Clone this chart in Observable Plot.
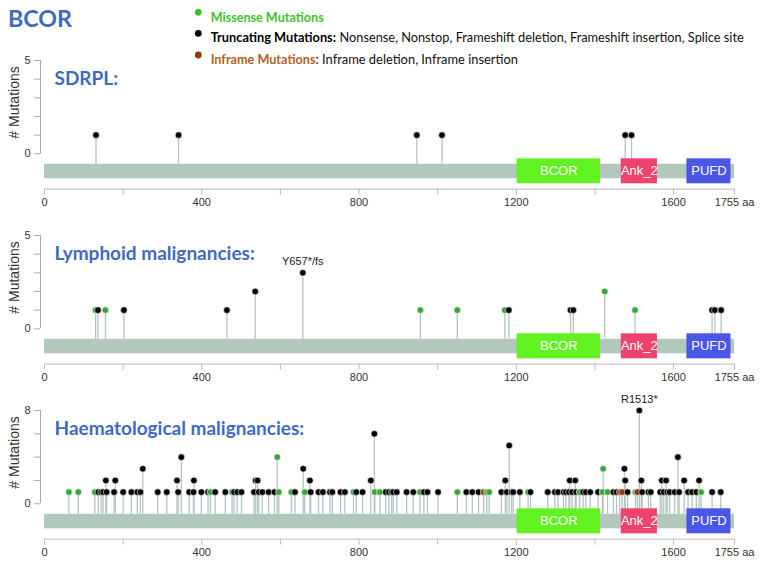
<!DOCTYPE html>
<html><head><meta charset="utf-8">
<script src="https://cdn.jsdelivr.net/npm/d3@7"></script>
<script src="https://cdn.jsdelivr.net/npm/@observablehq/plot@0.6"></script>
<style>
body{margin:0;background:#fff;}
#root{position:relative;width:764px;height:561px;overflow:hidden;background:#fff;}
.panel{position:absolute;left:0;}
#header{position:absolute;left:0;top:0;z-index:2;}
</style></head><body><div id="root"></div>
<script>
// ---------- data ----------
const proteinName = "BCOR";
const proteinLength = 1755;
const domainNames = ["BCOR", "Ank_2", "PUFD"];
const domainStart = [1202, 1467, 1634];
const domainEnd = [1414, 1559, 1746];
const domainColors = ["#62f221", "#f0436b", "#4b56e6"];

const xTicks = [0, 200, 400, 600, 800, 1000, 1200, 1400, 1600, 1755];
const xLabels = ["0", "", "400", "", "800", "", "1200", "", "1600", "1755 aa"];

const panelTitles = ["SDRPL:", "Lymphoid malignancies:", "Haematological malignancies:"];
const panelYMax = [5, 5, 8];
const panelYStep = [1, 1, 2];

const typeCodes = ["M", "T", "I"];
const typeColors = ["#3aa63a", "#000000", "#8b3a10"];

const legendDotColors = ["#35c22e", "#000000", "#8b3a10"];
const legendBold = ["Missense Mutations", "Truncating Mutations:", "Inframe Mutations"];
const legendBoldColors = ["#3cc42a", "#000000", "#b5611e"];
const legendRest = ["", " Nonsense, Nonstop, Frameshift deletion, Frameshift insertion, Splice site", ": Inframe deletion, Inframe insertion"];

// SDRPL
const sdrplPos = [131, 341, 947, 1011, 1477, 1493];
const sdrplCount = [1, 1, 1, 1, 1, 1];
const sdrplType = ["T", "T", "T", "T", "T", "T"];
const sdrplLabelPos = [];
const sdrplLabelText = [];

// Lymphoid malignancies
const lymphPos = [130, 136, 155, 202, 464, 536, 657, 956, 1050, 1171, 1181, 1338, 1345, 1425, 1502, 1698, 1705, 1721];
const lymphCount = [1, 1, 1, 1, 1, 2, 3, 1, 1, 1, 1, 1, 1, 2, 1, 1, 1, 1];
const lymphType = ["M", "T", "M", "T", "T", "T", "T", "M", "M", "M", "T", "T", "T", "M", "M", "T", "T", "T"];
const lymphLabelPos = [657];
const lymphLabelText = ["Y657*/fs"];

// Haematological malignancies
const haemPos = [62, 86, 128, 137, 144, 149, 156, 158, 177, 180, 200, 221, 236, 244, 250, 288, 311, 337, 340, 348,
  368, 379, 380, 399, 416, 422, 434, 460, 477, 482, 490, 501, 533, 537, 542, 545, 554, 570, 585, 592,
  596, 628, 637, 658, 662, 675, 677, 697, 708, 726, 732, 753, 764, 786, 793, 809, 830, 839, 840, 853,
  868, 876, 883, 887, 896, 921, 938, 955, 965, 974, 1001, 1050, 1073, 1088, 1104, 1117, 1125, 1131, 1162, 1172,
  1176, 1182, 1188, 1192, 1209, 1230, 1236, 1280, 1298, 1306, 1320, 1326, 1334, 1336, 1342, 1350, 1352, 1361, 1370, 1377,
  1388, 1408, 1419, 1421, 1432, 1447, 1455, 1463, 1469, 1475, 1477, 1483, 1503, 1508, 1513, 1518, 1520, 1536, 1542, 1566,
  1570, 1575, 1581, 1584, 1590, 1603, 1611, 1614, 1627, 1637, 1647, 1658, 1665, 1670, 1698, 1720];
const haemCount = [1, 1, 1, 1, 1, 1, 2, 1, 1, 2, 1, 1, 1, 1, 3, 1, 1, 2, 1, 4,
  1, 1, 2, 1, 1, 1, 1, 1, 1, 1, 1, 1, 1, 2, 2, 1, 1, 1, 1, 4,
  1, 1, 1, 3, 1, 2, 1, 1, 1, 1, 1, 1, 1, 1, 1, 1, 2, 6, 1, 1,
  1, 1, 1, 1, 1, 1, 1, 1, 1, 1, 1, 1, 1, 1, 1, 1, 1, 1, 1, 2,
  1, 5, 1, 1, 1, 1, 1, 1, 1, 1, 1, 1, 1, 2, 1, 2, 1, 1, 1, 1,
  1, 1, 1, 3, 1, 1, 1, 1, 1, 3, 2, 1, 1, 1, 8, 2, 1, 1, 1, 1,
  2, 1, 2, 1, 1, 1, 4, 1, 2, 1, 1, 1, 2, 1, 1, 1];
const haemType = ["M", "M", "M", "T", "T", "T", "T", "T", "T", "T", "T", "T", "T", "T", "T", "T", "T", "T", "T", "T",
  "T", "T", "T", "T", "T", "M", "T", "T", "M", "T", "T", "T", "T", "T", "T", "T", "T", "T", "T", "M",
  "M", "M", "T", "T", "M", "T", "T", "T", "T", "T", "T", "T", "T", "M", "T", "T", "T", "T", "M", "M",
  "T", "T", "T", "T", "T", "T", "T", "M", "T", "T", "T", "M", "T", "T", "T", "I", "M", "M", "T", "T",
  "T", "T", "T", "T", "T", "M", "T", "T", "T", "T", "T", "T", "T", "T", "T", "T", "T", "M", "T", "T",
  "T", "T", "M", "M", "M", "T", "T", "I", "I", "T", "T", "T", "M", "I", "T", "T", "T", "T", "T", "T",
  "T", "T", "T", "T", "T", "T", "T", "T", "T", "T", "T", "T", "T", "M", "T", "T"];
const haemLabelPos = [1513];
const haemLabelText = ["R1513*"];

// ---------- layout ----------
const root = document.getElementById("root");
const panelTops = [50, 225, 400];
const panelHeights = [175, 175, 161];
const titleWidths = [58.7, 205, 252];
const typeColor = Object.fromEntries(typeCodes.map((c, k) => [c, typeColors[k]]));
const xLabelFor = new Map(xTicks.map((t, k) => [t, xLabels[k]]));
const domains = domainNames.map((n, k) => ({name: n, start: domainStart[k], end: domainEnd[k], color: domainColors[k]}));

function panel(i, pos, count, type, labelPos, labelText) {
  const H = panelHeights[i];
  const ymax = panelYMax[i];
  const topPx = 10, zeroPx = 103.3, axisPx = 138.6;
  const ppu = (zeroPx - topPx) / ymax;
  const v = px => -px / ppu; // pixel distance below the zero line -> data units
  const muts = pos.map((p, k) => ({pos: p, count: count[k], type: type[k]})).sort((a, b) => a.pos - b.pos);
  const labels = labelPos.map((p, k) => ({pos: p, text: labelText[k], count: count[pos.indexOf(p)]}));
  const yTicks = d3.range(0, ymax + 0.001, panelYStep[i]);
  const plot = Plot.plot({
    width: 764, height: H,
    marginLeft: 40, marginRight: 30, marginTop: 0, marginBottom: H - axisPx,
    x: {domain: [0, proteinLength], range: [44, 734]},
    y: {domain: [0, ymax], range: [zeroPx, topPx]},
    color: {type: "identity"},
    style: {background: "transparent", fontFamily: "'Liberation Sans', Arial, sans-serif", fontSize: "11px", color: "#333", overflow: "visible"},
    marks: [
      Plot.ruleX(muts, {x: "pos", y1: v(10.5), y2: "count", stroke: "#b2c6be", strokeWidth: 1.3}),
      Plot.rect([proteinLength], {x1: 0, x2: d => d, y1: v(10.5), y2: v(25), fill: "#b3c8bc"}),
      Plot.rect(domains, {x1: "start", x2: "end", y1: v(5), y2: v(30), fill: "color"}),
      Plot.text(domains, {x: d => (d.start + d.end) / 2, y: v(17.5), text: "name", fill: "white", fontSize: 13}),
      Plot.dot(muts, {x: "pos", y: "count", r: 3.3, fill: d => typeColor[d.type], stroke: "white", strokeWidth: 0.6}),
      Plot.text(labels, {x: "pos", y: "count", text: "text", dy: -11.5, fill: "#222", fontSize: 11}),
      Plot.ruleY([v(35.3)], {x1: 0, x2: proteinLength, stroke: "#bbb"}),
      Plot.axisX({ticks: xTicks, tickFormat: d => xLabelFor.get(d), tickSize: 6, tickPadding: 3, stroke: "#bbb", fill: "#333", fontSize: 11, label: null}),
      Plot.ruleX([0], {y1: 0, y2: ymax, dx: -4, stroke: "#aaa"}),
      Plot.axisY({ticks: yTicks, tickFormat: d => (d === 0 || d === ymax) ? String(d) : "", tickSize: 6, tickPadding: 4, stroke: "#aaa", fill: "#333", fontSize: 11, label: null}),
      Plot.text([{y: ymax * 0.55, t: "# Mutations"}], {y: "y", frameAnchor: "left", textAnchor: "middle", lineAnchor: "middle", dx: -26, rotate: -90, text: "t", fontSize: 14, fill: "#333"}),
      Plot.text([panelTitles[i]], {frameAnchor: "top-left", textAnchor: "start", lineAnchor: "top", dx: 14, dy: 21, text: d => d,
        fontFamily: "Lato", fontWeight: "bold", fontSize: 19, fill: "#3d6bc2", ariaLabel: "panel-title"})
    ]
  });
  plot.classList.add("panel");
  plot.style.top = panelTops[i] + "px";
  root.appendChild(plot);
  plot.querySelectorAll('g[aria-label="panel-title"] text').forEach(t => {
    t.setAttribute("textLength", titleWidths[i]);
    t.setAttribute("lengthAdjust", "spacingAndGlyphs");
  });
}

panel(0, sdrplPos, sdrplCount, sdrplType, sdrplLabelPos, sdrplLabelText);
panel(1, lymphPos, lymphCount, lymphType, lymphLabelPos, lymphLabelText);
panel(2, haemPos, haemCount, haemType, haemLabelPos, haemLabelText);

// ---------- header: title + legend ----------
const header = d3.create("svg").attr("id", "header").attr("width", 764).attr("height", 72);
header.append("text").attr("x", 8).attr("y", 27).attr("font-family", "Lato").attr("font-weight", "bold")
  .attr("font-size", 23).attr("fill", "#3d6bc2").attr("textLength", 64).attr("lengthAdjust", "spacingAndGlyphs").text(proteinName);
const rowDotY = [12.3, 33.3, 55];
const rowBaseY = [21.7, 42.3, 64.3];
const boldW = [113, 125.3, 104.8];
const restX = [0, 339.5, 315.5];
const restW = [0, 404.2, 202.5];
legendBold.forEach((b, k) => {
  header.append("circle").attr("cx", 198.3).attr("cy", rowDotY[k]).attr("r", 3.4).attr("fill", legendDotColors[k]);
  header.append("text").attr("x", 210.7).attr("y", rowBaseY[k]).attr("font-family", "Lato").attr("font-weight", "bold")
    .attr("font-size", 12.5).attr("fill", legendBoldColors[k]).attr("textLength", boldW[k]).attr("lengthAdjust", "spacingAndGlyphs").text(b);
  if (legendRest[k]) {
    header.append("text").attr("x", restX[k]).attr("y", rowBaseY[k]).attr("font-family", "Lato")
      .attr("font-size", 12.5).attr("fill", "#111").attr("textLength", restW[k]).attr("lengthAdjust", "spacingAndGlyphs").text(legendRest[k]);
  }
});
root.appendChild(header.node());
</script>
</body></html>
